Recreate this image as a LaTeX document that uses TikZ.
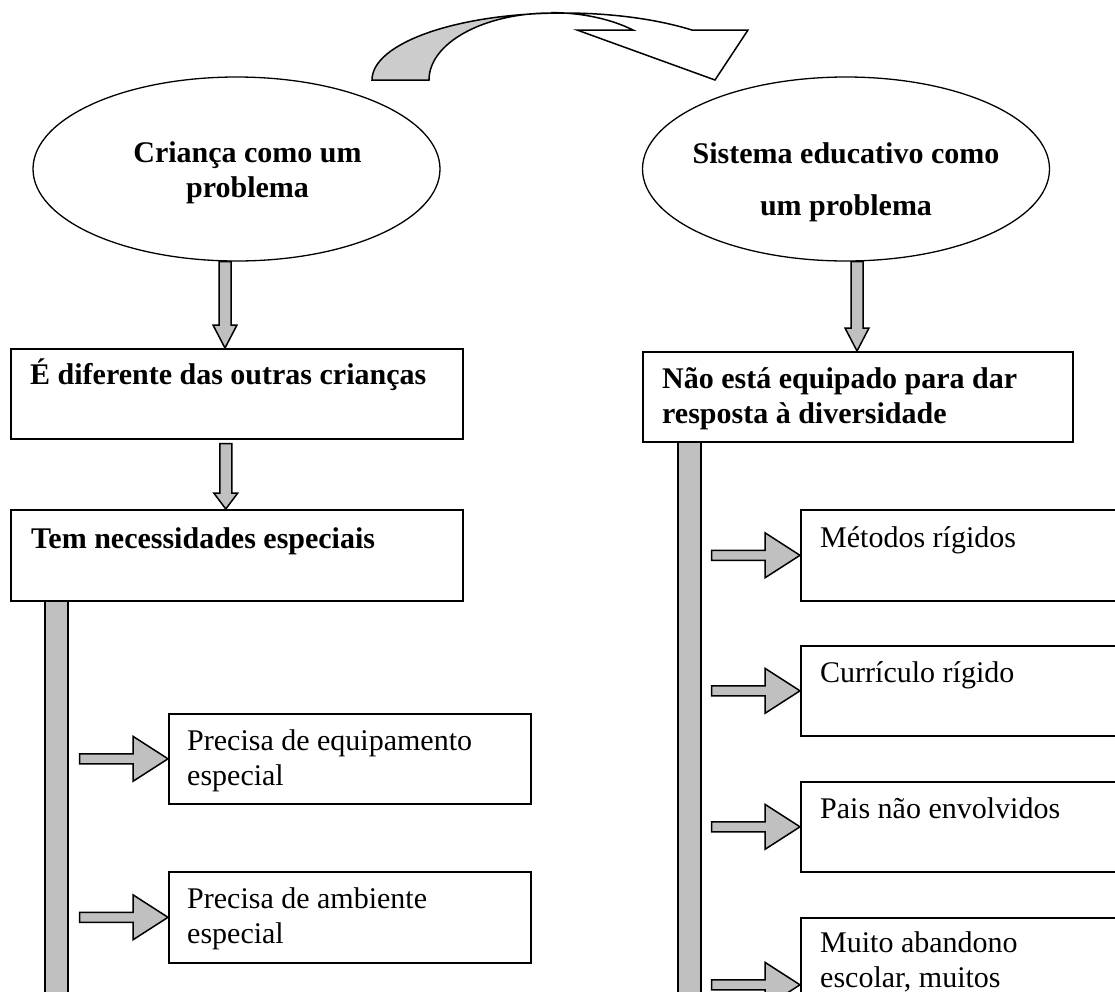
\documentclass[tikz,border=0pt]{standalone}
\usepackage{fontspec}
\setmainfont{Liberation Serif}
\usetikzlibrary{calc,shapes.geometric}
\definecolor{barfill}{RGB}{192,192,192}
\definecolor{curvefill}{RGB}{204,204,204}
\tikzset{
 ell/.style={draw, ellipse, line width=1.3pt, minimum width=407pt, minimum height=184pt, inner sep=0pt},
 box/.style={draw, rectangle, line width=1.6pt, fill=white, inner sep=0pt, anchor=north west},
 bt/.style={font=\fontsize{30}{34.5}\selectfont\bfseries, inner sep=0pt},
 rt/.style={font=\fontsize{30}{34.5}\selectfont, inner sep=0pt},
 fat/.style={draw, fill=barfill, line width=1.5pt, line join=miter},
 fatdown/.style={to path={let \p1=(\tikztostart), \p2=(\tikztotarget) in
   (\x1-6pt,\y1) -- (\x1-6pt,\y2+#1) -- (\x1-12pt,\y2+#1) -- (\x1,\y2) -- (\x1+12pt,\y2+#1) -- (\x1+6pt,\y2+#1) -- (\x1+6pt,\y1) -- cycle}},
 fatright/.style={to path={let \p1=(\tikztostart), \p2=(\tikztotarget) in
   (\x1,\y2+5pt) -- (\x2-35pt,\y2+5pt) -- (\x2-35pt,\y2+22.5pt) -- (\x2,\y2) -- (\x2-35pt,\y2-22.5pt) -- (\x2-35pt,\y2-5pt) -- (\x1,\y2-5pt) -- cycle}},
}
\begin{document}
\begin{tikzpicture}[x=1pt,y=-1pt]
\useasboundingbox (0,0) rectangle (1115,991);
\clip (0,0) rectangle (1115,991);

% curved arrow at the top
\path[draw, fill=curvefill, line width=1.5pt, line join=miter]
  (372,80) arc[start angle=180, end angle=270, x radius=192, y radius=67]
  -- (551,13) arc[start angle=270, end angle=180, x radius=122, y radius=67] -- cycle;
\path[draw, fill=white, line width=1.5pt, line join=miter]
  (564,13) arc[start angle=270, end angle=311.8, x radius=192, y radius=67]
  -- (748,30) -- (715,80) -- (577,30) -- (633,30)
  arc[start angle=312.2, end angle=270, x radius=122, y radius=67] -- cycle;

% ellipses
\node[ell] (e1) at (236.5,169) {};
\node[ell] (e2) at (846,169) {};
\node[bt, align=center, anchor=base] (e1t) at (247.5,197) {Criança como um\\problema};
\node[bt, align=center, anchor=base] (e2t) at (846,215) {Sistema educativo como\\[17.5pt]um problema};

% left column boxes
\node[box, minimum width=452pt, minimum height=90pt] (b1) at (10,348) {};
\node[bt, anchor=base west] (b1t) at (30,384) {É diferente das outras crianças};
\node[box, minimum width=452pt, minimum height=91pt] (b2) at (10,509) {};
\node[bt, anchor=base west] (b2t) at (31,548) {Tem necessidades especiais};

\node[box, minimum width=362pt, minimum height=90pt] (la) at (168,713) {};
\node[rt, anchor=base west, align=left] (lat) at (187,785) {Precisa de equipamento\\especial};
\node[box, minimum width=362pt, minimum height=91pt] (lb) at (168,871) {};
\node[rt, anchor=base west, align=left] (lbt) at (187,943) {Precisa de ambiente\\especial};

% right column boxes
\node[box, minimum width=430pt, minimum height=90pt] (r1) at (642,351) {};
\node[bt, anchor=base west, align=left] (r1t) at (662,423) {Não está equipado para dar\\resposta à diversidade};

\node[box, minimum width=400pt, minimum height=91pt] (m1) at (800,509) {};
\node[rt, anchor=base west] (m1t) at (820,547) {Métodos rígidos};
\node[box, minimum width=400pt, minimum height=90pt] (m2) at (800,645) {};
\node[rt, anchor=base west] (m2t) at (820,682) {Currículo rígido};
\node[box, minimum width=400pt, minimum height=90pt] (m3) at (800,781) {};
\node[rt, anchor=base west] (m3t) at (820,818) {Pais não envolvidos};
\node[box, minimum width=400pt, minimum height=134pt] (m4) at (800,917) {};
\node[rt, anchor=base west, align=left] (m4t) at (820,987) {Muito abandono\\escolar, muitos};

% vertical bars
\node[fat, rectangle, inner sep=0pt, minimum width=23pt, minimum height=420pt, anchor=north west] (lbar) at (44,600) {};
\node[fat, rectangle, inner sep=0pt, minimum width=23pt, minimum height=580pt, anchor=north west] (rbar) at (677,441) {};

% down arrows
\draw[fat] ([xshift=-11.5pt]e1.south) to[fatdown=23pt] (b1.north);
\draw[fat] ([xshift=11pt]e2.south) to[fatdown=23pt] (r1.north);
\draw[fat] ([shift={(-11,4)}]b1.south) to[fatdown=16pt] (b2.north);

% right arrows
\draw[fat] ([xshift=11pt]lbar.east) to[fatright] (la.west);
\draw[fat] ([xshift=11pt]lbar.east) to[fatright] (lb.west);
\draw[fat] ([xshift=10pt]rbar.east) to[fatright] (m1.west);
\draw[fat] ([xshift=10pt]rbar.east) to[fatright] (m2.west);
\draw[fat] ([xshift=10pt]rbar.east) to[fatright] (m3.west);
\draw[fat] ([xshift=10pt]rbar.east) to[fatright] (m4.west);
\end{tikzpicture}
\end{document}
